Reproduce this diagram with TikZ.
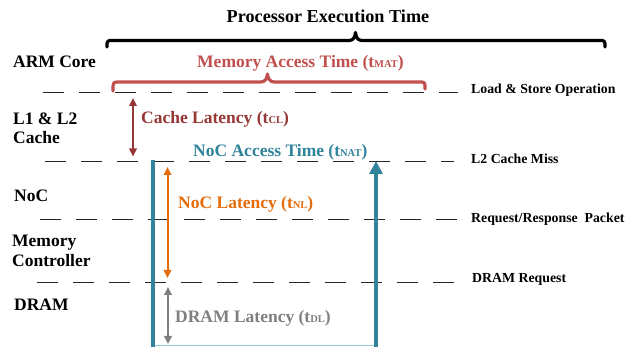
\documentclass[tikz,border=0pt]{standalone}
\usepackage{fontspec}
\setmainfont{Liberation Serif}
\usetikzlibrary{arrows.meta}
\definecolor{matred}{HTML}{C0504D}
\definecolor{clred}{HTML}{953735}
\definecolor{natteal}{HTML}{31849B}
\definecolor{nlorange}{HTML}{E46C0A}
\definecolor{dlgray}{HTML}{7F7F7F}
\definecolor{paleblue}{HTML}{92CDDC}
\definecolor{dashgray}{HTML}{262626}
\newcommand{\tsubs}[1]{{\fontsize{10.5}{10.5}\selectfont #1}}
\tikzset{
  lbl/.style={font=\fontsize{17.5}{19}\selectfont\bfseries, inner sep=0pt, anchor=base west},
  evt/.style={font=\fontsize{13.8}{15}\selectfont\bfseries, inner sep=0pt, anchor=base west},
  bigtxt/.style={font=\fontsize{17.5}{19}\selectfont\bfseries, inner sep=0pt, anchor=base west},
  stage/.style={draw=dashgray, line width=1.3pt, dash pattern=on 21pt off 15pt},
  bracepath/.style={line width=3.2pt, line cap=round, line join=round},
  latarrow/.style={line width=2pt, {Triangle[width=7.5pt,length=8pt]}-{Triangle[width=7.5pt,length=8pt]}},
  natline/.style={draw=natteal, line width=4pt}
}
\begin{document}
\begin{tikzpicture}[x=1pt,y=-1pt]
\useasboundingbox (0,0) rectangle (625,347);

% title and overall brace
\node[bigtxt, font=\fontsize{18.2}{20}\selectfont\bfseries, anchor=base] (title) at (328,23) {Processor Execution Time};
\draw[bracepath] (107,47) .. controls (107,40.5) .. (113,40.5) -- (349,40.5)
  .. controls (353.5,40.5) and (355,37) .. (355.5,32.5)
  .. controls (356,37) and (357.5,40.5) .. (362,40.5) -- (599,40.5)
  .. controls (605,40.5) .. (605,47);

% memory access time label and brace
\node[bigtxt, text=matred, anchor=base] (mat) at (300.5,68) {Memory Access Time (t\tsubs{MAT})};
\draw[bracepath, draw=matred] (113,91) .. controls (113,82) .. (119,82) -- (261,82)
  .. controls (265.5,82) and (267,78) .. (267.5,74)
  .. controls (268,78) and (269.5,82) .. (274,82) -- (419,82)
  .. controls (425,82) .. (425,89);

% left-hand layer names
\node[lbl] (arm) at (13,68) {ARM Core};
\node[lbl] (cache1) at (13,125) {L1 \& L2};
\node[lbl] (cache2) at (13,144) {Cache};
\node[lbl] (noc) at (14,202) {NoC};
\node[lbl] (mc1) at (12,247) {Memory};
\node[lbl] (mc2) at (12,267) {Controller};
\node[lbl] (dram) at (14,311) {DRAM};

% stage boundaries
\coordinate (s1a) at (43,92.5);  \coordinate (s1b) at (458,92.5);
\coordinate (s2a) at (45,161.5); \coordinate (s2b) at (454,161.5);
\coordinate (s3a) at (40,219.3); \coordinate (s3b) at (458,219.3);
\coordinate (s4a) at (37,282.7); \coordinate (s4b) at (454,282.7);
\draw[stage] (s1a) -- (s1b);
\draw[stage] (s2a) -- (s2b);
\draw[stage] (s3a) -- (s3b);
\draw[stage] (s4a) -- (s4b);

% event names on the right
\node[evt] (ev1) at (471,94) {Load \& Store Operation};
\node[evt] (ev2) at (471,164) {L2 Cache Miss};
\node[evt] (ev3) at (471,223) {Request/Response\ \ Packet};
\node[evt] (ev4) at (472,283) {DRAM Request};

% cache latency
\coordinate (cl1) at (133,98);
\coordinate (cl2) at (133,156.5);
\draw[latarrow, draw=clred, fill=clred] (cl1) -- (cl2);
\node[bigtxt, text=clred] (cl) at (141,124) {Cache Latency (t\tsubs{CL})};

% NoC access time loop
\node[bigtxt, text=natteal] (nat) at (193,157) {NoC Access Time (t\tsubs{NAT})};
\coordinate (n1) at (153,160);
\coordinate (n2) at (153,347);
\coordinate (n3) at (376,347);
\coordinate (n4) at (376,161);
\draw[paleblue, line width=1.8pt] (153,345.5) -- (376,345.5);
\draw[natline] (n1) -- (n2);
\draw[natline, -{Triangle[width=13pt,length=13pt]}] (n3) -- (n4);

% NoC latency
\coordinate (nl1) at (167.5,167);
\coordinate (nl2) at (167.5,278);
\draw[latarrow, draw=nlorange, fill=nlorange] (nl1) -- (nl2);
\node[bigtxt, text=nlorange] (nl) at (178,209) {NoC Latency (t\tsubs{NL})};

% DRAM latency
\coordinate (dl1) at (168,287);
\coordinate (dl2) at (168,344);
\draw[latarrow, draw=dlgray, fill=dlgray] (dl1) -- (dl2);
\node[bigtxt, text=dlgray] (dl) at (175,323) {DRAM Latency (t\tsubs{DL})};
\end{tikzpicture}
\end{document}
